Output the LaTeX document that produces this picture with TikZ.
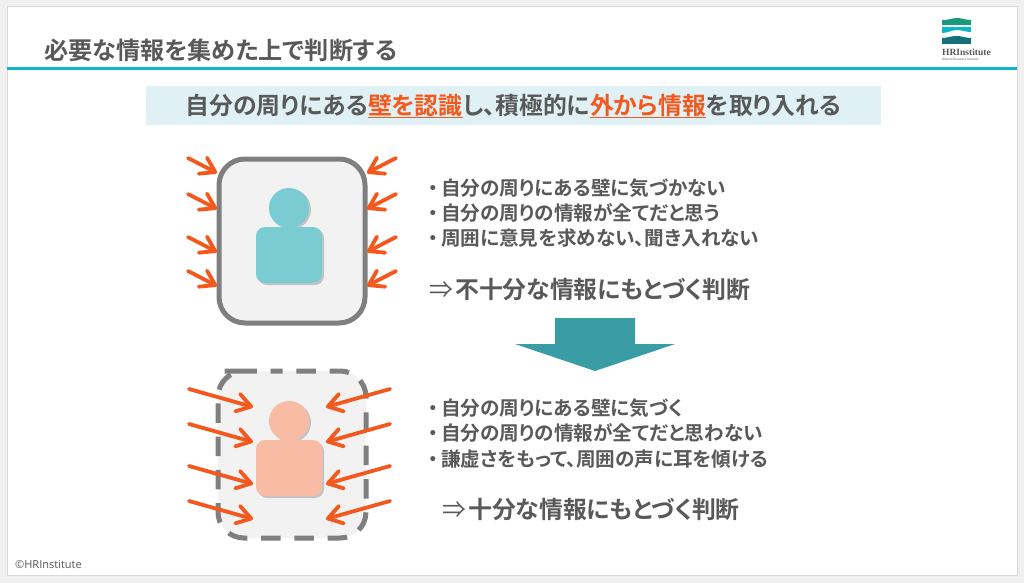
\documentclass[tikz,border=0pt]{standalone}
\usepackage{fontspec}
\setmainfont{Noto Sans CJK JP}[BoldFont={Noto Sans CJK JP Bold},RawFeature=+palt]
\newfontfamily\footfont{Open Sans}
\newfontfamily\logofont{Liberation Serif}
\usetikzlibrary{arrows.meta,shadows}
\definecolor{txtgray}{HTML}{595959}
\definecolor{wallgray}{HTML}{7F7F7F}
\definecolor{roomgray}{HTML}{F2F2F2}
\definecolor{hot}{HTML}{F4581C}
\definecolor{rulecyan}{HTML}{10B4C2}
\definecolor{band}{HTML}{DFF1F4}
\definecolor{bluep}{HTML}{7BCBD2}
\definecolor{pinkp}{HTML}{F8BBA3}
\definecolor{bigarrow}{HTML}{3A9DA6}
\definecolor{logogreen}{HTML}{1A9A78}
\definecolor{logodark}{HTML}{14707A}
\tikzset{
	push/.style={draw=hot,line width=3.8,line cap=round,-{Straight Barb[length=14pt,width=18pt,round]}},
	wall/.style={draw=wallgray,fill=roomgray,line width=5,rounded corners=26},
	body/.style={rounded corners=9,drop shadow={shadow xshift=2pt,shadow yshift=-2pt,opacity=.4}},
	head/.style={drop shadow={shadow xshift=2pt,shadow yshift=-1.5pt,opacity=.4}},
	big/.style={font=\bfseries\fontsize{23.85}{28}\selectfont,text=txtgray,anchor=west,inner sep=0},
	item/.style={font=\bfseries\fontsize{19.6}{24}\selectfont,text=txtgray,anchor=west,inner sep=0}
}
\newcommand{\hot}[1]{\textcolor{hot}{\underline{#1}}}
\newcommand{\dotmark}{\makebox[13pt][l]{・}}
\newcommand{\thenmark}[1]{\makebox[#1][l]{\mdseries ⇒}}
\begin{document}
\begin{tikzpicture}[x=1pt,y=-1pt]
	\useasboundingbox (0,0) rectangle (1024,583);
	\fill[black!6] (0,0) rectangle (1024,583);
	\draw[black!15,fill=white,line width=1] (7,7) rectangle (1017,575);
	\draw[rulecyan,line width=3] (7,69) -- (1017,69);
	% logo
	\fill[logogreen] (942,20) .. controls (950,20) and (952,18) .. (957,18) .. controls (962,18) and (965,20) .. (971,20) -- (971,25) -- (942,25) -- cycle;
	\fill[rulecyan] (942,27) -- (971,27) -- (971,32) .. controls (965,32) and (962,30) .. (957,30) .. controls (952,30) and (948,33) .. (942,33) -- cycle;
	\fill[logodark] (942,38) .. controls (948,38) and (950,36) .. (957,36) .. controls (962,36) and (965,38) .. (971,38) -- (971,44) -- (942,44) -- cycle;
	\node[font=\logofont\bfseries\fontsize{9.5}{10}\selectfont,text=txtgray,anchor=west,inner sep=0] (logoname) at (942,52) {HRInstitute};
	\node[font=\logofont\fontsize{3.5}{4}\selectfont,text=txtgray,anchor=west,inner sep=0] (logosub) at (942,59) {Human Resource Institute};
	% title and banner
	\node[font=\bfseries\fontsize{24.15}{28}\selectfont,text=txtgray,anchor=west,inner sep=0] (title) at (44,50) {必要な情報を集めた上で判断する};
	\fill[band] (146,86) rectangle (881,125);
	\node[big,anchor=center] (banner) at (513.5,106) {自分の周りにある\hot{壁を認識}し、積極的に\hot{外から情報}を取り入れる};
	% upper room
	\draw[wall] (219,159) rectangle (365,323);
	\foreach \y in {173,209,252,286}{
		\coordinate (LT) at (217,\y);
		\coordinate (LF) at (188,\y-15);
		\coordinate (RT) at (367,\y);
		\coordinate (RF) at (396,\y-15);
		\draw[push] (LF) -- (LT);
		\draw[push] (RF) -- (RT);
	}
	\fill[bluep,head] (289,208) circle (20);
	\fill[bluep,body] (256,227) rectangle (322,283);
	\node[item] (a1) at (428,188) {\dotmark 自分の周りにある壁に気づかない};
	\node[item] (a2) at (428,213) {\dotmark 自分の周りの情報が全てだと思う};
	\node[item] (a3) at (428,238) {\dotmark 周囲に意見を求めない、聞き入れない};
	\node[big] (a4) at (429,290) {\thenmark{26pt}不十分な情報にもとづく判断};
	% big arrow
	\fill[bigarrow] (555,318) -- (635,318) -- (635,344) -- (675,344) -- (595,371) -- (515,344) -- (555,344) -- cycle;
	% lower room
	\fill[roomgray,rounded corners=26] (218,371) rectangle (366,538);
	\draw[draw=wallgray,line width=5,rounded corners=26,dash pattern=on 19.5 off 13.8,dash phase=13] (250,371) -- (366,371) -- (366,538) -- (218,538) -- (218,371) -- cycle;
	\foreach \y in {407,442,484,519}{
		\coordinate (LT) at (253,\y);
		\coordinate (LF) at (189,\y-18);
		\coordinate (RT) at (326,\y);
		\coordinate (RF) at (390,\y-18);
		\draw[push] (LF) -- (LT);
		\draw[push] (RF) -- (RT);
	}
	\fill[pinkp,head] (289,421) circle (20);
	\fill[pinkp,body] (256,440) rectangle (322,496);
	\node[item] (b1) at (428,408) {\dotmark 自分の周りにある壁に気づく};
	\node[item] (b2) at (428,433) {\dotmark 自分の周りの情報が全てだと思わない};
	\node[item] (b3) at (428,459) {\dotmark 謙虚さをもって、周囲の声に耳を傾ける};
	\node[big] (b4) at (442,510) {\thenmark{26pt}十分な情報にもとづく判断};
	\node[font=\footfont\fontsize{11}{13}\selectfont,text=txtgray,anchor=west,inner sep=0] (copy) at (15,565) {©HRInstitute};
\end{tikzpicture}
\end{document}
